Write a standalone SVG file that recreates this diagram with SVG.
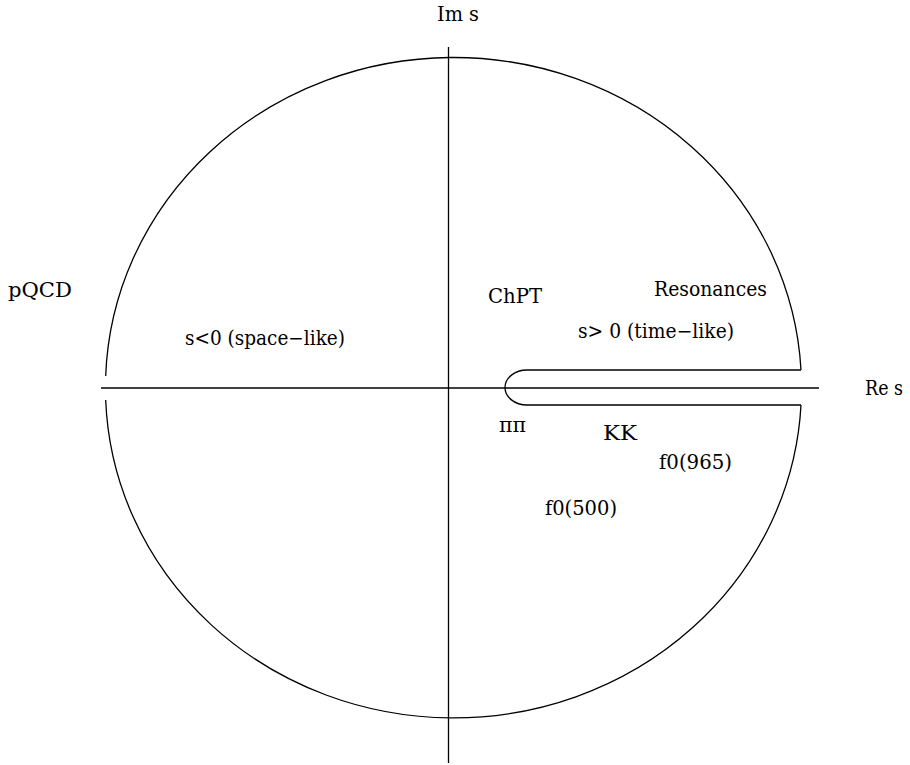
<svg xmlns="http://www.w3.org/2000/svg" width="910" height="765" viewBox="0 0 910 765">
<style>
.ln{fill:none;stroke:#000;stroke-width:1.3}
.t{fill:#000;font-family:"DejaVu Serif",serif;font-size:20px}
</style>
<rect width="910" height="765" fill="#fff"/>
<g id="axes">
<line class="ln" x1="448.5" y1="47" x2="448.5" y2="763"/>
<line class="ln" x1="101" y1="388" x2="819" y2="388"/>
</g>
<g id="contour">
<path class="ln" d="M105.7,376 A348,330 0 0 1 801,370"/>
<path class="ln" d="M801,405 A348,330 0 0 1 105.7,400"/>
<path class="ln" d="M801,370 H527 A22,17.5 0 0 0 527,405 H801"/>
</g>
<g id="labels">
<text class="t" x="437" y="21" textLength="42" lengthAdjust="spacingAndGlyphs">Im s</text>
<text class="t" x="8" y="297" textLength="64" lengthAdjust="spacingAndGlyphs">pQCD</text>
<text class="t" x="185" y="345" textLength="160" lengthAdjust="spacingAndGlyphs">s&lt;0 (space−like)</text>
<text class="t" x="488" y="303" textLength="54" lengthAdjust="spacingAndGlyphs">ChPT</text>
<text class="t" x="654" y="296" textLength="113" lengthAdjust="spacingAndGlyphs">Resonances</text>
<text class="t" x="578" y="338" textLength="156" lengthAdjust="spacingAndGlyphs">s&gt; 0 (time−like)</text>
<text class="t" x="865" y="395" textLength="38" lengthAdjust="spacingAndGlyphs">Re s</text>
<text class="t" x="499" y="432" textLength="27" lengthAdjust="spacingAndGlyphs">ππ</text>
<text class="t" x="603" y="440" textLength="34" lengthAdjust="spacingAndGlyphs">KK</text>
<text class="t" x="659" y="469" textLength="73" lengthAdjust="spacingAndGlyphs">f0(965)</text>
<text class="t" x="545" y="515" textLength="72" lengthAdjust="spacingAndGlyphs">f0(500)</text>
</g>
</svg>
